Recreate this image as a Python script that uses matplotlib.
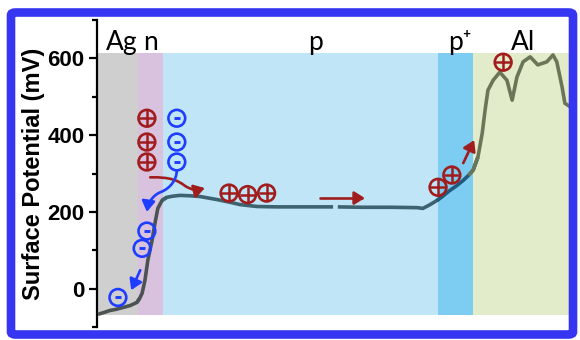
'''Surface potential profile across the Ag / n / p / p+ / Al cell, with carrier sketch'''

import numpy as np
import matplotlib
matplotlib.use("Agg")
import matplotlib.pyplot as plt
from matplotlib.patches import FancyArrowPatch, FancyBboxPatch
from matplotlib.path import Path

######################################
# DATA
# position along the scan (a.u., 0-100) and surface potential (mV)
pos = [0.2, 1.5, 2.7, 4.0, 5.5, 7.0, 8.4, 9.0, 9.5, 10.1, 10.7, 11.6, 12.2, 12.8, 13.7,
       14.7, 16.0, 17.5, 19.5, 21.7, 23.5, 25.3, 28.0, 30.1, 33.7, 38.0, 42.7, 49.7,
       np.nan, 50.7, 56.0, 62.0, 67.4, 68.6, 70.0, 71.6, 73.0, 74.3, 75.7, 77.1, 78.2,
       79.2, 80.2, 81.1, 81.7, 82.3, 83.4, 84.8, 86.3, 87.4, 88.4, 89.7, 91.2, 92.8,
       94.7, 96.0, 96.8, 97.9, 98.5, 99.6]
potential = [-67, -62, -57, -54, -49, -44, -36, -25, -12, 22, 74, 126, 170, 209, 230,
             238, 241, 243, 242, 240, 236, 232, 225, 219, 214, 213, 213, 213,
             np.nan, 213, 212, 212, 211, 209, 218, 230, 243, 256, 268, 282, 295,
             309, 343, 405, 465, 517, 543, 564, 543, 491, 551, 591, 604, 583,
             591, 609, 591, 526, 483, 474]

# layers of the cell
layer_names = ["Ag", "n", "p", "p\u207a", "Al"]
layer_edges = [0, 8.6, 13.9, 71.8, 79.2, 100]
layer_colors = ["#cfcfcf", "#d9c2de", "#bfe5f6", "#7ccdf1", "#e3ecca"]
trace_colors = ["#4b5452", "#4b5452", "#3d6370", "#23597a", "#6b7658"]
label_pos = [5.3, 11.2, 45.9, 76.4, 89.7]
band_bottom, band_top = -70, 613

# carriers drawn on top (position, mV)
holes_x = [10.5, 10.5, 10.5, 27.8, 31.7, 35.7, 71.8, 74.7, 85.5]
holes_y = [444, 382, 330, 249, 245, 249, 264, 296, 590]
electrons_x = [16.8, 16.8, 16.8, 10.5, 9.5, 4.4]
electrons_y = [444, 382, 330, 150, 105, -23]
######################################

RED = "#a11c1c"
BLUE = "#1f3dff"

fig = plt.figure(figsize=(5.8, 3.4), dpi=100)
ax = fig.add_axes([97 / 580, 1 - 327 / 340, 475 / 580, 307 / 340])
ax.set_xlim(0, 100)
ax.set_ylim(-100, 700)

# coloured layers + labels
for i in range(len(layer_names)):
    ax.fill_between([layer_edges[i], layer_edges[i + 1]], band_bottom, band_top,
                    color=layer_colors[i], lw=0, zorder=0)
    ax.text(label_pos[i], 622, layer_names[i], ha="center", va="baseline",
            fontsize=19, family=["Lato", "DejaVu Sans"], color="black")

# the trace, coloured per layer
x = np.array(pos, dtype=float)
y = np.array(potential, dtype=float)
for i in range(len(layer_names)):
    lo, hi = layer_edges[i], layer_edges[i + 1]
    idx = np.where((x >= lo) & (x <= hi))[0]
    if len(idx) == 0:
        continue
    a = max(idx[0] - 1, 0)
    b = min(idx[-1] + 1, len(x) - 1)
    ax.plot(x[a:b + 1], y[a:b + 1], color=trace_colors[i], lw=2.6, zorder=3,
            solid_capstyle="butt")

# carriers: circled plus / circled minus
ax.scatter(holes_x, holes_y, s=145, marker="o", facecolor="none", edgecolor=RED,
           linewidth=1.9, zorder=5)
ax.scatter(holes_x, holes_y, s=145, marker="+", color=RED, linewidth=1.8, zorder=5)
ax.scatter(electrons_x, electrons_y, s=145, marker="o", facecolor="none", edgecolor=BLUE,
           linewidth=1.9, zorder=5)
ax.scatter(electrons_x, electrons_y, s=24, marker="_", color=BLUE, linewidth=2.1, zorder=5)

# arrows
def add_arrow(verts, codes, color):
    arr = FancyArrowPatch(path=Path(verts, codes), arrowstyle="-|>,head_length=0.45,head_width=0.28",
                          mutation_scale=14, color=color, lw=1.9, zorder=4)
    ax.add_patch(arr)

C4 = Path.CURVE4
# holes drifting into p
add_arrow([(11.2, 290), (15.5, 291), (17.0, 282), (18.5, 268), (20.0, 256), (21.0, 256), (22.7, 262)],
          [Path.MOVETO, C4, C4, C4, C4, C4, C4], RED)
# electrons into n
add_arrow([(16.8, 308), (16.8, 285), (15.5, 262), (13.5, 252), (11.8, 244), (10.8, 225), (10.5, 200)],
          [Path.MOVETO, C4, C4, C4, C4, C4, C4], BLUE)
add_arrow([(9.1, 48), (7.2, -4)], [Path.MOVETO, Path.LINETO], BLUE)
add_arrow([(46.9, 236), (56.4, 236)], [Path.MOVETO, Path.LINETO], RED)
add_arrow([(77.1, 327), (79.4, 387)], [Path.MOVETO, Path.LINETO], RED)

# axis styling: only the left spine
for side in ["top", "right", "bottom"]:
    ax.spines[side].set_visible(False)
ax.spines["left"].set_linewidth(1.6)
ax.set_xticks([])
ax.set_yticks([0, 200, 400, 600])
ax.set_yticks([-100, 100, 300, 500, 700], minor=True)
ax.tick_params(axis="y", which="major", length=6, width=1.6, pad=3, labelsize=16)
ax.tick_params(axis="y", which="minor", length=3.5, width=1.6)
for lab in ax.get_yticklabels():
    lab.set_fontweight("bold")
    lab.set_family("Liberation Sans")
ax.set_ylabel("Surface Potential (mV)", fontsize=17, fontweight="bold",
              family="Liberation Sans", labelpad=2)
ax.patch.set_alpha(0)

# blue frame round the whole figure
frame = FancyBboxPatch((11 / 580, 1 - 334.5 / 340), 562 / 580, 322 / 340,
                       boxstyle="round,pad=0,rounding_size=0.008",
                       transform=fig.transFigure, facecolor="none",
                       edgecolor="#3535f2", linewidth=6.2, zorder=10)
fig.patches.append(frame)

fig.savefig("out.png", dpi=100)
